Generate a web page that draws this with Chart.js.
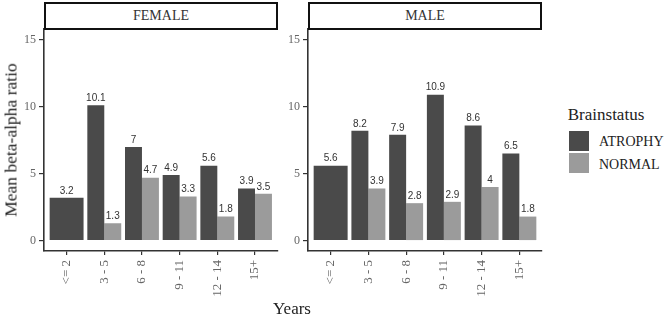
<!DOCTYPE html>
<html>
<head>
<meta charset="utf-8">
<script src="https://cdn.jsdelivr.net/npm/chart.js@4.4.1/dist/chart.umd.min.js"></script>
<style>
body { margin: 0; background: #fff; }
#wrap { position: relative; width: 669px; height: 317px; overflow: hidden; font-family: "Liberation Serif", "Times New Roman", serif; color: #222; }
canvas { position: absolute; top: 0; }
.strip { position: absolute; top: 2px; height: 28px; box-sizing: border-box; border: 2px solid #111; text-align: center; font-size: 14px; line-height: 24px; color: #333; background: #fff; }
.txt { position: absolute; white-space: nowrap; transform: translate(-50%, -50%); }
.key { position: absolute; left: 569px; width: 20px; height: 20px; }
.lab { position: absolute; left: 599px; font-size: 14px; line-height: 14px; }
</style>
</head>
<body>
<div id="wrap">
    <canvas id="femaleChart" width="280" height="317" style="left:0px"></canvas>
    <canvas id="maleChart" width="280" height="317" style="left:264px"></canvas>
    <div class="strip" style="left:44px; width:234px;">FEMALE</div>
    <div class="strip" style="left:308px; width:234px;">MALE</div>
    <div class="txt" style="left:11px; top:140px; font-size:17.5px; transform: translate(-50%, -50%) rotate(-90deg);">Mean beta-alpha ratio</div>
    <div class="txt" style="left:292px; top:309px; font-size:17px;">Years</div>
    <div class="txt" style="left:606px; top:115px; font-size:17px;">Brainstatus</div>
    <div class="key" style="top:131px; background:#4a4a4a;"></div>
    <div class="key" style="top:153px; background:#9b9b9b;"></div>
    <div class="lab" style="top:135px;">ATROPHY</div>
    <div class="lab" style="top:158px;">NORMAL</div>
</div>
<script>
var years = ["<= 2", "3 - 5", "6 - 8", "9 - 11", "12 - 14", "15+"];
var yTicks = [0, 5, 10, 15];

var femaleAtrophy = [3.2, 10.1, 7, 4.9, 5.6, 3.9];
var femaleNormal = [null, 1.3, 4.7, 3.3, 1.8, 3.5];
var maleAtrophy = [5.6, 8.2, 7.9, 10.9, 8.6, 6.5];
var maleNormal = [null, 3.9, 2.8, 2.9, 4, 1.8];

var serif = '"Liberation Serif", "Times New Roman", serif';
var axisColor = '#333';

function toPoints(values) {
    return values.map(function (v, i) {
        return { x: i, y: v };
    });
}

// value labels above each bar
var barLabels = {
    id: 'barLabels',
    afterDatasetsDraw: function (chart) {
        var ctx = chart.ctx;
        ctx.save();
        ctx.font = '10px "Liberation Sans", Arial, sans-serif';
        ctx.fillStyle = '#333';
        ctx.textAlign = 'center';
        ctx.textBaseline = 'bottom';
        chart.data.datasets.forEach(function (ds, d) {
            chart.getDatasetMeta(d).data.forEach(function (bar, i) {
                var v = ds.data[i].y;
                if (v === null) return;
                ctx.fillText(String(v), bar.x, bar.y - 2);
            });
        });
        ctx.restore();
    }
};

function CreatePanel(id, atrophy, normal, padRight) {
    var ctx = document.getElementById(id).getContext('2d');
    return new Chart(ctx, {
        type: 'bar',
        data: {
            datasets: [{
                label: 'ATROPHY',
                data: toPoints(atrophy),
                backgroundColor: '#4a4a4a',
                skipNull: true
            }, {
                label: 'NORMAL',
                data: toPoints(normal),
                backgroundColor: '#9b9b9b',
                skipNull: true
            }]
        },
        options: {
            responsive: false,
            animation: false,
            categoryPercentage: 0.9,
            barPercentage: 1.0,
            inflateAmount: 0,
            layout: {
                padding: { top: 29, right: padRight, left: 0, bottom: 0 }
            },
            plugins: {
                legend: { display: false },
                tooltip: { enabled: false }
            },
            scales: {
                x: {
                    type: 'linear',
                    offset: false,
                    min: -0.6,
                    max: 5.6,
                    afterBuildTicks: function (scale) {
                        scale.ticks = years.map(function (y, i) { return { value: i }; });
                    },
                    afterFit: function (scale) {
                        scale.height = 66;
                        scale.paddingLeft = 0;
                        scale.paddingRight = 0;
                    },
                    grid: { display: true, offset: false, drawOnChartArea: false, drawTicks: true, tickLength: 4, color: axisColor, lineWidth: 1.2 },
                    border: { display: true, color: axisColor, width: 1.6 },
                    ticks: {
                        autoSkip: false,
                        minRotation: 90,
                        maxRotation: 90,
                        padding: 5,
                        color: '#666',
                        font: { family: serif, size: 13 },
                        callback: function (v) { return years[v]; }
                    }
                },
                y: {
                    min: -0.77,
                    max: 15.8,
                    afterBuildTicks: function (scale) {
                        scale.ticks = yTicks.map(function (v) { return { value: v }; });
                    },
                    afterFit: function (scale) {
                        scale.width = 44;
                        scale.paddingTop = 0;
                        scale.paddingBottom = 0;
                    },
                    grid: { display: true, drawOnChartArea: false, drawTicks: true, tickLength: 5, color: axisColor, lineWidth: 1.2 },
                    border: { display: true, color: axisColor, width: 1.6 },
                    ticks: {
                        padding: 3,
                        color: '#666',
                        font: { family: serif, size: 12 }
                    }
                }
            }
        },
        plugins: [barLabels]
    });
}

var femaleChart = CreatePanel('femaleChart', femaleAtrophy, femaleNormal, 2.4);
var maleChart = CreatePanel('maleChart', maleAtrophy, maleNormal, 2);
</script>
</body>
</html>
